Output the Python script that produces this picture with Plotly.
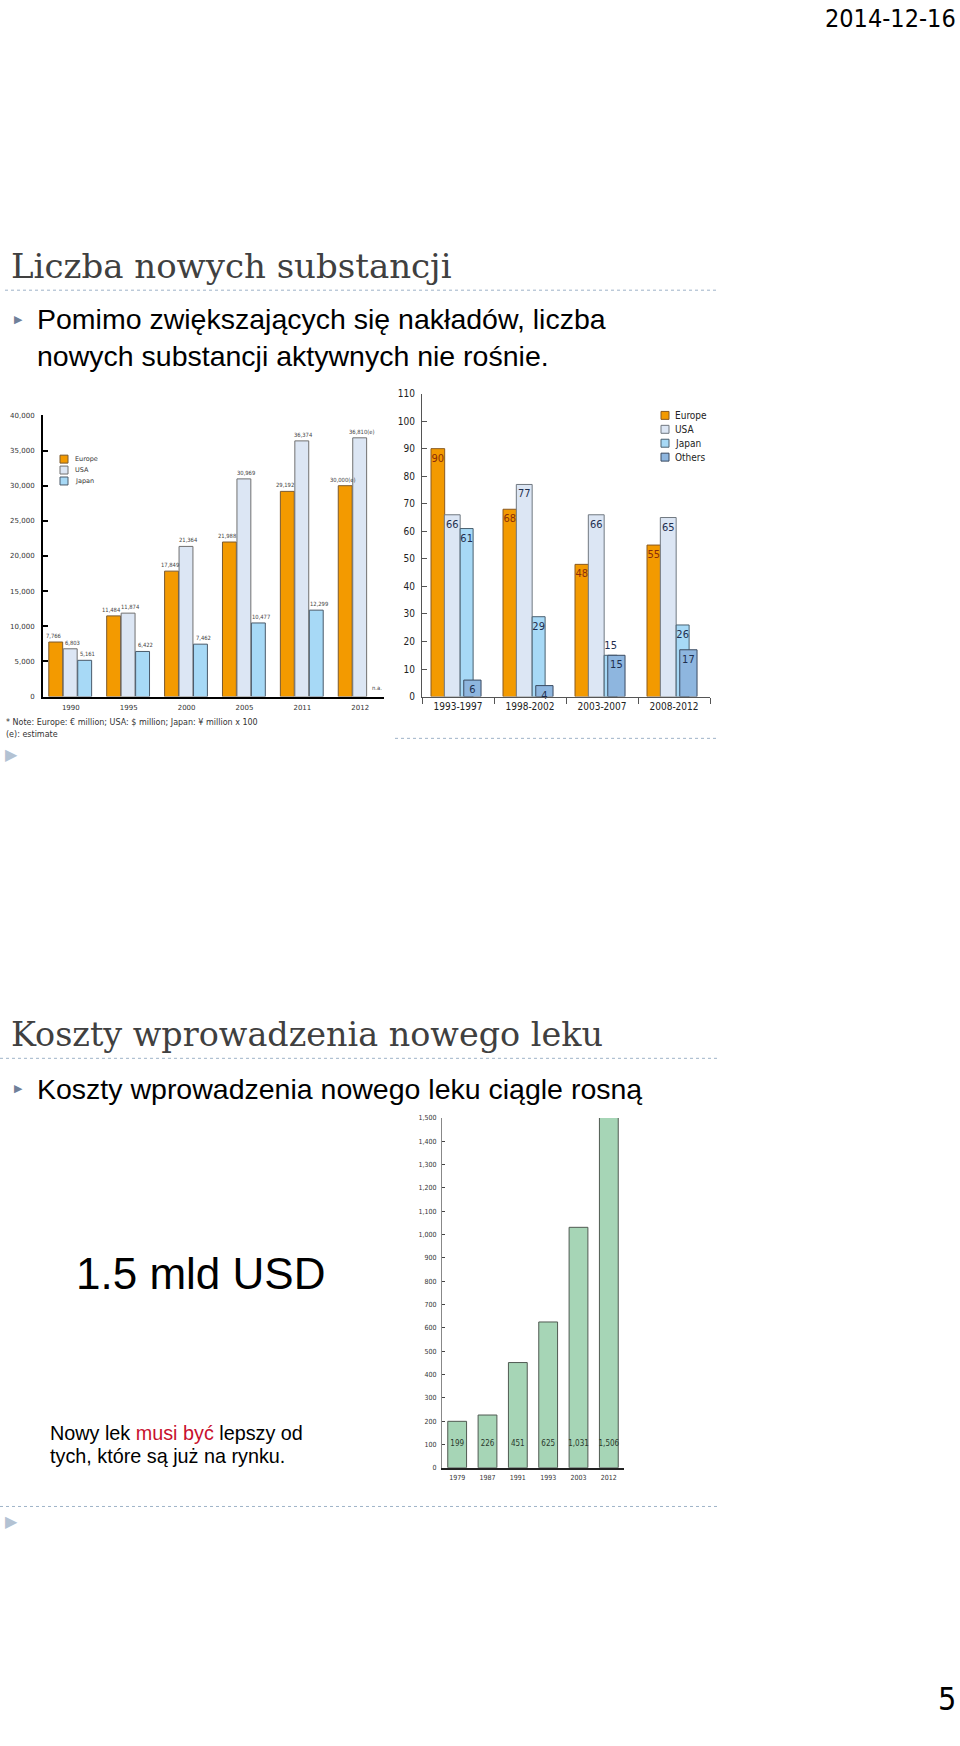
import plotly.graph_objects as go

W, H = 960, 1746

# ---------- Chart 1: R&D spending ----------
years1 = ["1990", "1995", "2000", "2005", "2011", "2012"]
rd_europe = [7766, 11484, 17849, 21988, 29192, 30000]
rd_usa = [6803, 11874, 21364, 30969, 36374, 36810]
rd_japan = [5161, 6422, 7462, 10477, 12299, None]
rd_europe_lbl = ["7,766", "11,484", "17,849", "21,988", "29,192", "30,000(e)"]
rd_usa_lbl = ["6,803", "11,874", "21,364", "30,969", "36,374", "36,810(e)"]
rd_japan_lbl = ["5,161", "6,422", "7,462", "10,477", "12,299", "n.a."]

# ---------- Chart 2: new active substances ----------
periods = ["1993-1997", "1998-2002", "2003-2007", "2008-2012"]
nas_europe = [90, 68, 48, 55]
nas_usa = [66, 77, 66, 65]
nas_japan = [61, 29, 15, 26]
nas_others = [6, 4, 15, 17]

# ---------- Chart 3: cost of a new drug (USD million) ----------
cost_years = ["1979", "1987", "1991", "1993", "2003", "2012"]
cost_musd = [199, 226, 451, 625, 1031, 1506]

C_EU = "#F39A00"
C_US = "#DCE6F4"
C_JP = "#A7D9F6"
C_OT = "#8EB6DF"
C_COST = "#A6D5B6"

def px(x):
    return x / W

def py(y):
    return 1 - y / H

fig = go.Figure()
ann = []

# Chart 1 bars (+ value labels as annotations anchored to the data)
X1_UNIT = 57.8  # px per category on chart 1
series1 = [
    (rd_europe, rd_europe_lbl, C_EU, "#7a5a30", -0.38, "Europe", -2),
    (rd_usa, rd_usa_lbl, C_US, "#707070", -0.13, "USA", 2),
    (rd_japan, rd_japan_lbl, C_JP, "#4a5a6a", 0.12, "Japan", 3),
]
for vals, lbl, col, lc, off, name, dx in series1:
    fig.add_trace(go.Bar(
        x=years1, y=vals,
        marker=dict(color=col, line=dict(color=lc, width=1)),
        offset=off, width=0.24, xaxis="x", yaxis="y", name=name, showlegend=False))
    for i, (v, t) in enumerate(zip(vals, lbl)):
        ann.append(dict(x=i, y=(v if v is not None else 0), xref="x", yref="y", text=t,
                        showarrow=False, xanchor="center", yanchor="bottom",
                        xshift=(off + 0.12) * X1_UNIT + dx, yshift=1 if v is not None else 4,
                        font=dict(size=5.8, color="#444", family="DejaVu Sans Condensed, DejaVu Sans")))

# Chart 2 bars
for vals, col, lc, tc, off, wd, name, tpos in [
    (nas_europe, C_EU, "#8a5a20", "#8B2E0A", -0.375, 0.19, "Europe", "inside"),
    (nas_usa, C_US, "#707880", "#1F2F4F", -0.19, 0.22, "USA", "inside"),
    (nas_japan, C_JP, "#4a6070", "#1F2F4F", 0.03, 0.18, "Japan", ["inside", "inside", "outside", "inside"]),
    (nas_others, C_OT, "#3a4a60", "#1F2F4F", 0.08, 0.24, "Others", "inside"),
]:
    fig.add_trace(go.Bar(
        x=periods, y=vals, text=[str(v) for v in vals], textposition=tpos,
        insidetextanchor="end", textangle=0, constraintext="none", cliponaxis=False,
        textfont=dict(size=11, color=tc, family="DejaVu Sans Condensed, DejaVu Sans"),
        marker=dict(color=col, line=dict(color=lc, width=1)),
        offset=off, width=wd, xaxis="x2", yaxis="y2", name=name, showlegend=False))

# Chart 3 bars + labels
fig.add_trace(go.Bar(
    x=cost_years, y=cost_musd, width=0.62,
    marker=dict(color=C_COST, line=dict(color="#505a52", width=1)),
    xaxis="x3", yaxis="y3", showlegend=False))
label_y = 100
fig.add_trace(go.Scatter(
    x=cost_years, y=[label_y] * len(cost_years), mode="text",
    text=[f"{v:,}" for v in cost_musd],
    textfont=dict(size=8, color="#2c3a2e", family="DejaVu Sans Condensed, DejaVu Sans"),
    xaxis="x3", yaxis="y3", showlegend=False, cliponaxis=False))

axfont_small = dict(size=7, color="#333", family="DejaVu Sans")
axfont_c = dict(size=10, color="#222", family="DejaVu Sans Condensed, DejaVu Sans")
axfont_c3 = dict(size=7, color="#333", family="DejaVu Sans Condensed, DejaVu Sans")

fig.update_layout(
    width=W, height=H, margin=dict(l=0, r=0, t=0, b=0),
    paper_bgcolor="white", plot_bgcolor="rgba(0,0,0,0)",
    barmode="overlay", showlegend=False,
    xaxis=dict(domain=[px(43), px(384)], anchor="y", type="category",
               range=[-0.48, 5.41], showline=True, linecolor="black", linewidth=2,
               ticks="", tickfont=axfont_small, showgrid=False, zeroline=False,
               ticklabelstandoff=3),
    yaxis=dict(domain=[py(696), py(413)], anchor="x", range=[0, 40000], dtick=5000,
               tickformat=",d", showline=True, linecolor="black", linewidth=2,
               ticks="inside", ticklen=5, tickcolor="black", tickwidth=2,
               tickfont=axfont_small, showgrid=False, zeroline=False,
               ticklabelstandoff=5),
    xaxis2=dict(domain=[px(422), px(710)], anchor="y2", type="category",
                range=[-0.5, 3.5], showline=True, linecolor="#555", linewidth=1,
                ticks="outside", tickson="boundaries", ticklen=6, tickcolor="#555",
                tickfont=axfont_c, showgrid=False, zeroline=False),
    yaxis2=dict(domain=[py(696), py(391)], anchor="x2", range=[0, 110], dtick=10,
                showline=True, linecolor="#555", linewidth=1,
                ticks="inside", ticklen=5, tickcolor="#555",
                tickfont=axfont_c, showgrid=False, zeroline=False,
                ticklabelstandoff=4),
    xaxis3=dict(domain=[px(442), px(624)], anchor="y3", type="category",
                range=[-0.5, 5.5], showline=True, linecolor="#222", linewidth=1.5,
                ticks="", tickfont=axfont_c3, showgrid=False, zeroline=False,
                ticklabelstandoff=2),
    yaxis3=dict(domain=[py(1472), py(1120)], anchor="x3", range=[0, 1500], dtick=100,
                tickformat=",d", showline=True, linecolor="#888", linewidth=1,
                ticks="inside", ticklen=3, tickcolor="#444",
                tickfont=axfont_c3, showgrid=False, zeroline=False,
                ticklabelstandoff=3),
)

def txt(x, y, s, size, color="#000", family="Liberation Sans, Arial", xanchor="left", yanchor="middle"):
    ann.append(dict(x=px(x), y=py(y), xref="paper", yref="paper", text=s, showarrow=False,
                    xanchor=xanchor, yanchor=yanchor,
                    font=dict(size=size, color=color, family=family)))

# Page texts
txt(958, 14, "2014-12-16", 25, "#000", "DejaVu Sans Condensed, DejaVu Sans", xanchor="right")
txt(9, 263, "Liczba nowych substancji", 34, "#404040", "DejaVu Serif, Liberation Serif")
txt(12, 316, "▶", 11, "#6f809a")
txt(35, 316, "Pomimo zwiększających się nakładów, liczba", 28.5)
txt(35, 353, "nowych substancji aktywnych nie rośnie.", 28.5)
txt(3, 754, "▶", 16, "#b3c2d3")

txt(9, 1036, "Koszty wprowadzenia nowego leku", 33.4, "#404040", "DejaVu Serif, Liberation Serif")
txt(12, 1090, "▶", 11, "#6f809a")
txt(35, 1091, "Koszty wprowadzenia nowego leku ciągle rosną", 28.5)
txt(74, 1277, "1.5 mld USD", 44)
txt(48, 1437, "Nowy lek <span style='color:#C8102E'>musi być</span> lepszy od", 19.8)
txt(48, 1460, "tych, które są już na rynku.", 19.8)
txt(3, 1526, "▶", 16, "#b3c2d3")
txt(958, 1705, "5", 32, "#000", "DejaVu Sans Condensed, DejaVu Sans", xanchor="right")

# Chart 1 note
txt(4, 722, "* Note: Europe: € million; USA: $ million; Japan: ¥ million x 100", 8, "#333", "DejaVu Sans")
txt(4, 734, "(e): estimate", 8, "#333", "DejaVu Sans")

shapes = []
# Manual legends
for i, (name, col, lc) in enumerate([("Europe", C_EU, "#7a5a30"), ("USA", C_US, "#707070"), ("Japan", C_JP, "#4a5a6a")]):
    yc = 457 + i * 11
    shapes.append(dict(type="rect", xref="paper", yref="paper", x0=px(60), x1=px(68),
                       y0=py(yc + 4), y1=py(yc - 4), fillcolor=col, line=dict(color=lc, width=1)))
    txt(73, yc, name, 6.5, "#333", "DejaVu Sans")
for i, (name, col, lc) in enumerate([("Europe", C_EU, "#8a5a20"), ("USA", C_US, "#707880"),
                                     ("Japan", C_JP, "#4a6070"), ("Others", C_OT, "#3a4a60")]):
    yc = 413 + i * 14
    shapes.append(dict(type="rect", xref="paper", yref="paper", x0=px(661), x1=px(669),
                       y0=py(yc + 4), y1=py(yc - 4), fillcolor=col, line=dict(color=lc, width=1)))
    txt(673, yc, name, 10, "#222", "DejaVu Sans Condensed, DejaVu Sans")

# Dotted separators
for (x0, x1, yy) in [(5, 716, 287), (395, 718, 738), (0, 718, 1060), (0, 718, 1511)]:
    shapes.append(dict(type="line", xref="paper", yref="paper", x0=px(x0), x1=px(x1),
                       y0=py(yy), y1=py(yy), line=dict(color="#9fb3c8", width=1, dash="dot")))

fig.update_layout(annotations=ann, shapes=shapes)
fig.write_html("out.html")
